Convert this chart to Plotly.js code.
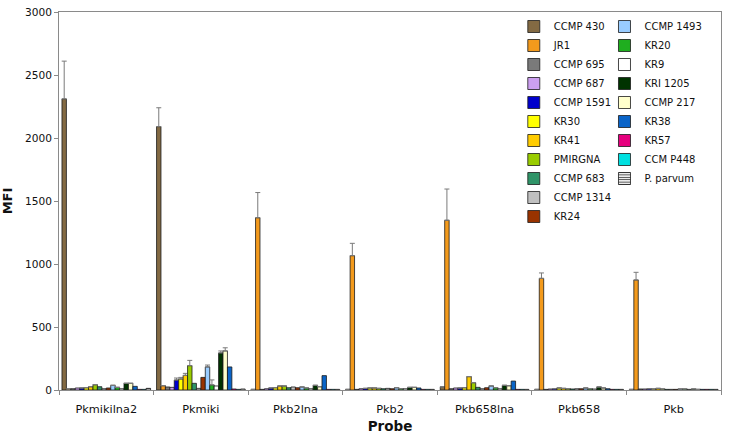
<!DOCTYPE html>
<html>
<head>
<meta charset="utf-8">
<script src="https://cdn.plot.ly/plotly-3.0.1.min.js"></script>
<style>html,body{margin:0;padding:0;background:#fff;}#chart{width:729px;height:440px;}</style>
</head>
<body>
<div id="chart"></div>
<script>
const probes = ["Pkmikilna2", "Pkmiki", "Pkb2lna", "Pkb2", "Pkb658lna", "Pkb658", "Pkb"];

const CCMP_430  = [2310, 2090, 5, 5, 25, 5, 5];
const JR1       = [8, 34, 1367, 1066, 1347, 886, 873];
const CCMP_695  = [10, 24, 5, 5, 10, 5, 8];
const CCMP_687  = [16, 21, 10, 10, 16, 8, 8];
const CCMP_1591 = [16, 79, 16, 13, 16, 10, 10];
const KR30      = [18, 87, 18, 16, 18, 16, 8];
const KR41      = [26, 116, 32, 16, 106, 13, 13];
const PMIRGNA   = [42, 193, 32, 13, 58, 10, 8];
const CCMP_683  = [26, 53, 18, 10, 21, 8, 5];
const CCMP_1314 = [10, 13, 24, 13, 10, 10, 5];
const KR24      = [16, 100, 18, 10, 18, 10, 5];
const CCMP_1493 = [37, 183, 24, 18, 32, 16, 8];
const KR20      = [21, 40, 16, 10, 18, 10, 8];
const KR9       = [10, 32, 10, 10, 10, 8, 5];
const KRI_1205  = [53, 294, 37, 21, 37, 24, 8];
const CCMP_217  = [53, 310, 26, 21, 34, 16, 5];
const KR38      = [29, 183, 114, 16, 71, 10, 5];
const KR57      = [5, 8, 5, 5, 5, 5, 5];
const CCM_P448  = [5, 5, 5, 5, 5, 5, 5];
const P_parvum  = [13, 8, 5, 5, 5, 5, 5];

// error bars (NaN = none drawn)
const N = NaN;
const err_CCMP_430  = [300, 150, N, N, N, N, N];
const err_JR1       = [N, N, 200, 98, 248, 43, 61];
const err_CCMP_1591 = [N, 16, N, N, N, N, N];
const err_KR30      = [N, 13, N, N, N, N, N];
const err_KR41      = [N, 16, N, N, N, N, N];
const err_PMIRGNA   = [N, 42, N, N, N, N, N];
const err_CCMP_1493 = [N, 15, N, N, N, N, N];
const err_KR20      = [N, 40, N, N, N, N, N];
const err_KRI_1205  = [N, 16, N, N, N, N, N];
const err_CCMP_217  = [N, 25, N, N, N, N, N];

const seriesNames = ["CCMP 430", "JR1", "CCMP 695", "CCMP 687", "CCMP 1591", "KR30", "KR41", "PMIRGNA",
  "CCMP 683", "CCMP 1314", "KR24", "CCMP 1493", "KR20", "KR9", "KRI 1205", "CCMP 217", "KR38", "KR57",
  "CCM P448", "P. parvum"];
const seriesValues = [CCMP_430, JR1, CCMP_695, CCMP_687, CCMP_1591, KR30, KR41, PMIRGNA, CCMP_683, CCMP_1314,
  KR24, CCMP_1493, KR20, KR9, KRI_1205, CCMP_217, KR38, KR57, CCM_P448, P_parvum];
const seriesErrors = [err_CCMP_430, err_JR1, null, null, err_CCMP_1591, err_KR30, err_KR41, err_PMIRGNA, null, null,
  null, err_CCMP_1493, err_KR20, null, err_KRI_1205, err_CCMP_217, null, null, null, null];
const seriesColors = ["#836a43", "#f39a1c", "#7a7a7a", "#cc9ff0", "#0000cc", "#ffff00", "#ffcc00", "#99cc00",
  "#2f9468", "#c0c0c0", "#993300", "#99ccff", "#1fae1f", "#ffffff", "#003300", "#ffffcc", "#0a64c8", "#e6007e",
  "#00e0e0", "#ffffff"];

const FONT = "DejaVu Sans, Verdana, sans-serif";

const traces = seriesNames.map((name, i) => {
  const t = {
    type: "bar",
    name: name,
    x: probes,
    y: seriesValues[i],
    legend: i < 11 ? "legend" : "legend2",
    marker: {color: seriesColors[i], line: {color: "#1a1a1a", width: 0.8}},
    hoverinfo: "name+y"
  };
  if (name === "P. parvum") {
    t.marker.pattern = {shape: "-", fgcolor: "#333333", bgcolor: "#ffffff", size: 3, solidity: 0.4};
  }
  if (seriesErrors[i]) {
    t.error_y = {type: "data", array: seriesErrors[i], symmetric: false, arrayminus: seriesErrors[i].map(() => 0),
      visible: true, color: "#7a7a7a", thickness: 1, width: 2.5};
  }
  return t;
});

const legendCommon = {
  font: {family: FONT, size: 10, color: "#111"},
  bgcolor: "rgba(0,0,0,0)",
  borderwidth: 0,
  orientation: "v",
  yanchor: "top",
  xanchor: "left",
  traceorder: "normal",
  itemclick: false
};

const layout = {
  width: 729,
  height: 440,
  margin: {l: 59, r: 8, t: 12, b: 50},
  paper_bgcolor: "#ffffff",
  plot_bgcolor: "#ffffff",
  barmode: "group",
  bargap: 0.063,
  bargroupgap: 0,
  font: {family: FONT, color: "#111"},
  showlegend: true,
  legend: Object.assign({}, legendCommon, {x: 0.687, y: 1.0}),
  legend2: Object.assign({}, legendCommon, {x: 0.824, y: 1.0}),
  xaxis: {
    type: "category",
    showline: true, linecolor: "#8a8a8a", linewidth: 1, mirror: true,
    ticks: "outside", ticklen: 4, tickcolor: "#8a8a8a", tickson: "boundaries",
    ticklabelstandoff: 8,
    tickfont: {family: FONT, size: 11.3, color: "#111"},
    showgrid: false, zeroline: false,
    title: {text: "<b>Probe</b>", font: {family: FONT, size: 13.5, color: "#111"}, standoff: 6}
  },
  yaxis: {
    range: [0, 3000], dtick: 500, tick0: 0,
    showline: true, linecolor: "#8a8a8a", linewidth: 1, mirror: true,
    ticks: "outside", ticklen: 4, tickcolor: "#8a8a8a",
    tickfont: {family: FONT, size: 10.6, color: "#111"},
    showgrid: false, zeroline: false,
    title: {text: "<b>MFI</b>", font: {family: FONT, size: 13, color: "#111"}, standoff: 12}
  }
};

Plotly.newPlot("chart", traces, layout, {displayModeBar: false, staticPlot: true});
</script>
</body>
</html>
